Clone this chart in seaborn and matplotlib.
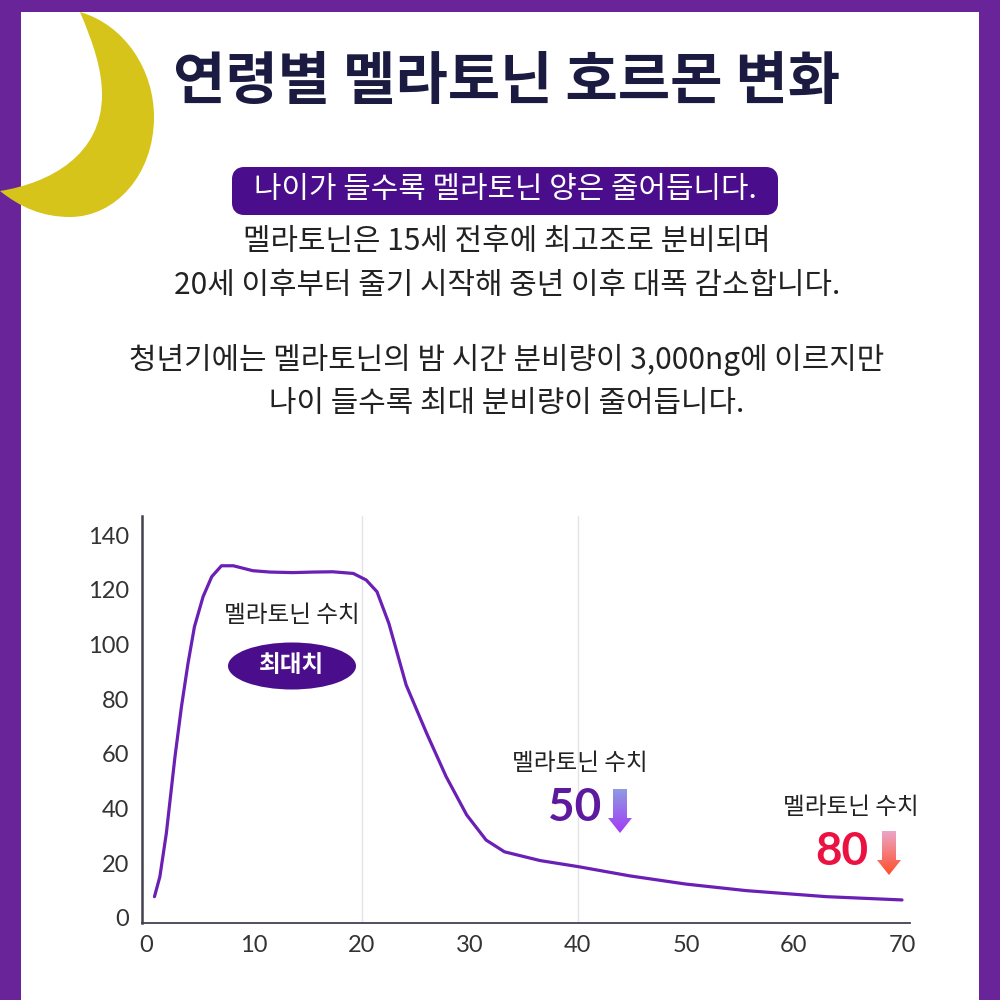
import numpy as np
import pandas as pd
import seaborn as sns
import matplotlib
matplotlib.use("Agg")
import matplotlib.pyplot as plt
from matplotlib.patches import Rectangle, Ellipse, FancyBboxPatch, PathPatch, Polygon
from matplotlib.path import Path
from matplotlib.colors import LinearSegmentedColormap

# Melatonin level by age
ages = [0.8, 1.3, 1.9, 2.7, 3.3, 3.9, 4.5, 5.3, 6.1, 7.0, 8.1, 9.9, 11.5, 13.6, 15.5, 17.3,
        19.2, 20.4, 21.4, 22.5, 24.1, 26.0, 27.8, 29.7, 31.5, 33.2, 36.5, 40.0, 44.8, 50.0,
        55.6, 63.0, 70.0]
levels = [7.8, 15.1, 31.0, 59.0, 77.3, 93.0, 106.5, 117.5, 124.8, 128.8, 128.8, 127.0, 126.5,
          126.3, 126.5, 126.6, 126.0, 123.6, 119.3, 107.7, 85.2, 67.5, 51.7, 37.7, 28.5, 24.2,
          21.0, 18.8, 15.4, 12.4, 10.0, 7.8, 6.6]
x_ticks = [0, 10, 20, 30, 40, 50, 60, 70]
y_ticks = [0, 20, 40, 60, 80, 100, 120, 140]
grid_ages = [20, 40]

title = "연령별 멜라토닌 호르몬 변화"
headline = "나이가 들수록 멜라토닌 양은 줄어듭니다."
body_lines = ["멜라토닌은 15세 전후에 최고조로 분비되며",
              "20세 이후부터 줄기 시작해 중년 이후 대폭 감소합니다.",
              "청년기에는 멜라토닌의 밤 시간 분비량이 3,000ng에 이르지만",
              "나이 들수록 최대 분비량이 줄어듭니다."]
level_label = "멜라토닌 수치"
peak_label = "최대치"
mid_value = "50"
late_value = "80"

PURPLE = "#69249A"
DEEP = "#4A0D8C"
KR = ["Noto Sans CJK KR", "DejaVu Sans"]

sns.set_theme(style="white")
plt.rcParams["font.family"] = KR

fig = plt.figure(figsize=(10, 10), dpi=100, facecolor=PURPLE)

# Page layer in pixel coordinates, y pointing down
page = fig.add_axes([0, 0, 1, 1], zorder=0)
page.set_xlim(0, 1000)
page.set_ylim(1000, 0)
page.axis("off")
page.add_patch(Rectangle((21, 12), 958, 988, fc="white", ec="none"))

moon = Path(
    [(80, 12), (125, 25), (154, 70), (154, 117), (154, 175), (115, 217), (70, 217),
     (42, 217), (20, 207), (0, 191), (50, 183), (102, 155), (102, 95), (102, 70), (94, 45), (80, 12)],
    [Path.MOVETO] + [Path.CURVE4] * 15,
)
page.add_patch(PathPatch(moon, fc="#D6C41B", ec="none"))

page.text(507, 82, title, ha="center", va="center", fontsize=41, fontweight="bold", color="#1B1A40")
page.add_patch(FancyBboxPatch((238, 173), 534, 36, boxstyle="round,pad=0,rounding_size=6",
                              mutation_aspect=1, fc=DEEP, ec=DEEP, lw=12 * 0.72, joinstyle="round"))
page.text(505, 190, headline, ha="center", va="center", fontsize=21.5, color="white")
for y_px, line in zip([242, 286, 360, 404], body_lines):
    page.text(507, y_px, line, ha="center", va="center", fontsize=21.5, color="#222222")

# Line chart
L, R, T, B = 141.5, 910, 516, 922.7
chart = fig.add_axes([L / 1000, 1 - B / 1000, (R - L) / 1000, (B - T) / 1000], zorder=1)
chart.patch.set_visible(False)
frame = pd.DataFrame({"age": ages, "level": levels})
for g in grid_ages:
    chart.axvline(g, color="#E4E2EA", lw=1, zorder=1)
sns.lineplot(data=frame, x="age", y="level", ax=chart, color="#6A1FB5", lw=2.3, sort=False,
             errorbar=None, zorder=3)
chart.set_xlim(-0.4, 70.74)
chart.set_ylim(-1.72, 147)
chart.set_xticks(x_ticks)
chart.set_yticks(y_ticks)
chart.set_xlabel("")
chart.set_ylabel("")
chart.tick_params(axis="both", length=0, labelsize=17, labelcolor="#333333", pad=9)
for lab in chart.get_xticklabels() + chart.get_yticklabels():
    lab.set_family("Lato")
chart.spines["top"].set_visible(False)
chart.spines["right"].set_visible(False)
chart.spines["left"].set_color("#444050")
chart.spines["left"].set_linewidth(1.8)
chart.spines["bottom"].set_color("#444050")
chart.spines["bottom"].set_linewidth(1.3)

# Annotations layer above the chart
notes = fig.add_axes([0, 0, 1, 1], zorder=2)
notes.set_xlim(0, 1000)
notes.set_ylim(1000, 0)
notes.axis("off")
for cx, cy in [(292, 616), (580, 763), (851, 808)]:
    notes.text(cx, cy, level_label, ha="center", va="center", fontsize=17,
               fontweight="medium", color="#222222")
notes.add_patch(Ellipse((292, 666), 128, 47, fc=DEEP, ec="none"))
notes.text(292, 665, peak_label, ha="center", va="center", fontsize=17, fontweight="bold", color="white")
notes.text(575, 808, mid_value, ha="center", va="center", fontsize=33, fontweight="bold",
           color="#5E1A9E", family="Lato")
notes.text(842, 852, late_value, ha="center", va="center", fontsize=33, fontweight="bold",
           color="#EB1241", family="Lato")


def gradient_arrow(ax, cx, top, bottom, start, end):
    """Down arrow filled with a vertical colour gradient."""
    cmap = LinearSegmentedColormap.from_list("fade", [start, end])
    shaft = 7
    head = 12
    neck = bottom - 15
    img = ax.imshow(np.linspace(0, 1, 64)[:, None], cmap=cmap, aspect="auto",
                    extent=(cx - head, cx + head, bottom, top), zorder=4)
    outline = Polygon([(cx - shaft, top), (cx + shaft, top), (cx + shaft, neck), (cx + head, neck),
                       (cx, bottom), (cx - head, neck), (cx - shaft, neck)],
                      transform=ax.transData, fc="none", ec="none")
    ax.add_patch(outline)
    img.set_clip_path(outline)


gradient_arrow(notes, 620, 789, 833, "#8F9BE2", "#A23CF5")
gradient_arrow(notes, 889, 831, 875, "#EBA6C8", "#FF4E28")
notes.set_xlim(0, 1000)
notes.set_ylim(1000, 0)

fig.savefig("out.png", dpi=100, facecolor=fig.get_facecolor())
